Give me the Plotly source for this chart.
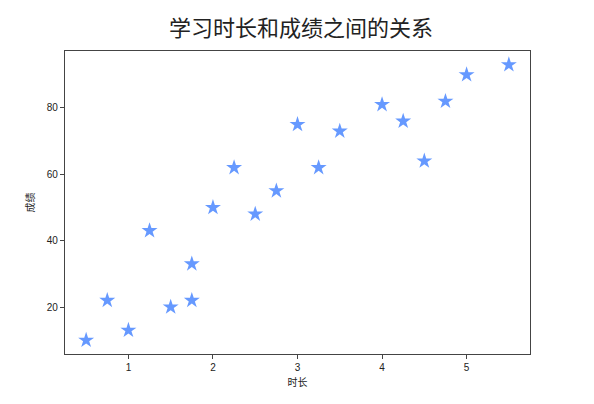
import plotly.graph_objects as go

hours = [0.50, 0.75, 1.00, 1.25, 1.50, 1.75, 1.75, 2.00, 2.25, 2.50,
         2.75, 3.00, 3.25, 3.50, 4.00, 4.25, 4.50, 4.75, 5.00, 5.50]
scores = [10, 22, 13, 43, 20, 22, 33, 50, 62, 48,
          55, 75, 62, 73, 81, 76, 64, 82, 90, 93]
title_text = "学习时长和成绩之间的关系"
x_label = "时长"
y_label = "成绩"

font_family = "Noto Sans CJK SC, DejaVu Sans, sans-serif"
tick_family = "Liberation Sans, Arial, sans-serif"

fig = go.Figure(go.Scatter(
    x=hours, y=scores, mode="markers",
    marker=dict(symbol="star", size=12, color="#6699FF", line=dict(width=0)),
))

axis_common = dict(
    showgrid=False, zeroline=False, showline=True, mirror=True,
    linecolor="#444444", linewidth=1.2,
    ticks="outside", ticklen=4, tickwidth=1, tickcolor="#444444",
    tickfont=dict(size=10, color="#222222", family=tick_family),
)

fig.update_layout(
    width=586, height=396,
    margin=dict(l=57, r=64, t=43, b=50),
    paper_bgcolor="white", plot_bgcolor="white",
    showlegend=False,
    title=dict(text=title_text, x=0.5, xanchor="center", y=0.95, yanchor="middle",
               font=dict(size=22, color="#222222", family=font_family)),
    xaxis=dict(range=[0.25, 5.75], tickvals=[1, 2, 3, 4, 5],
               title=dict(text=x_label, standoff=6, font=dict(size=10, color="#222222", family=font_family)),
               **axis_common),
    yaxis=dict(range=[5.85, 97.15], tickvals=[20, 40, 60, 80],
               title=dict(text=y_label, standoff=10, font=dict(size=10, color="#222222", family=font_family)),
               **axis_common),
)

fig.write_html("out.html")
